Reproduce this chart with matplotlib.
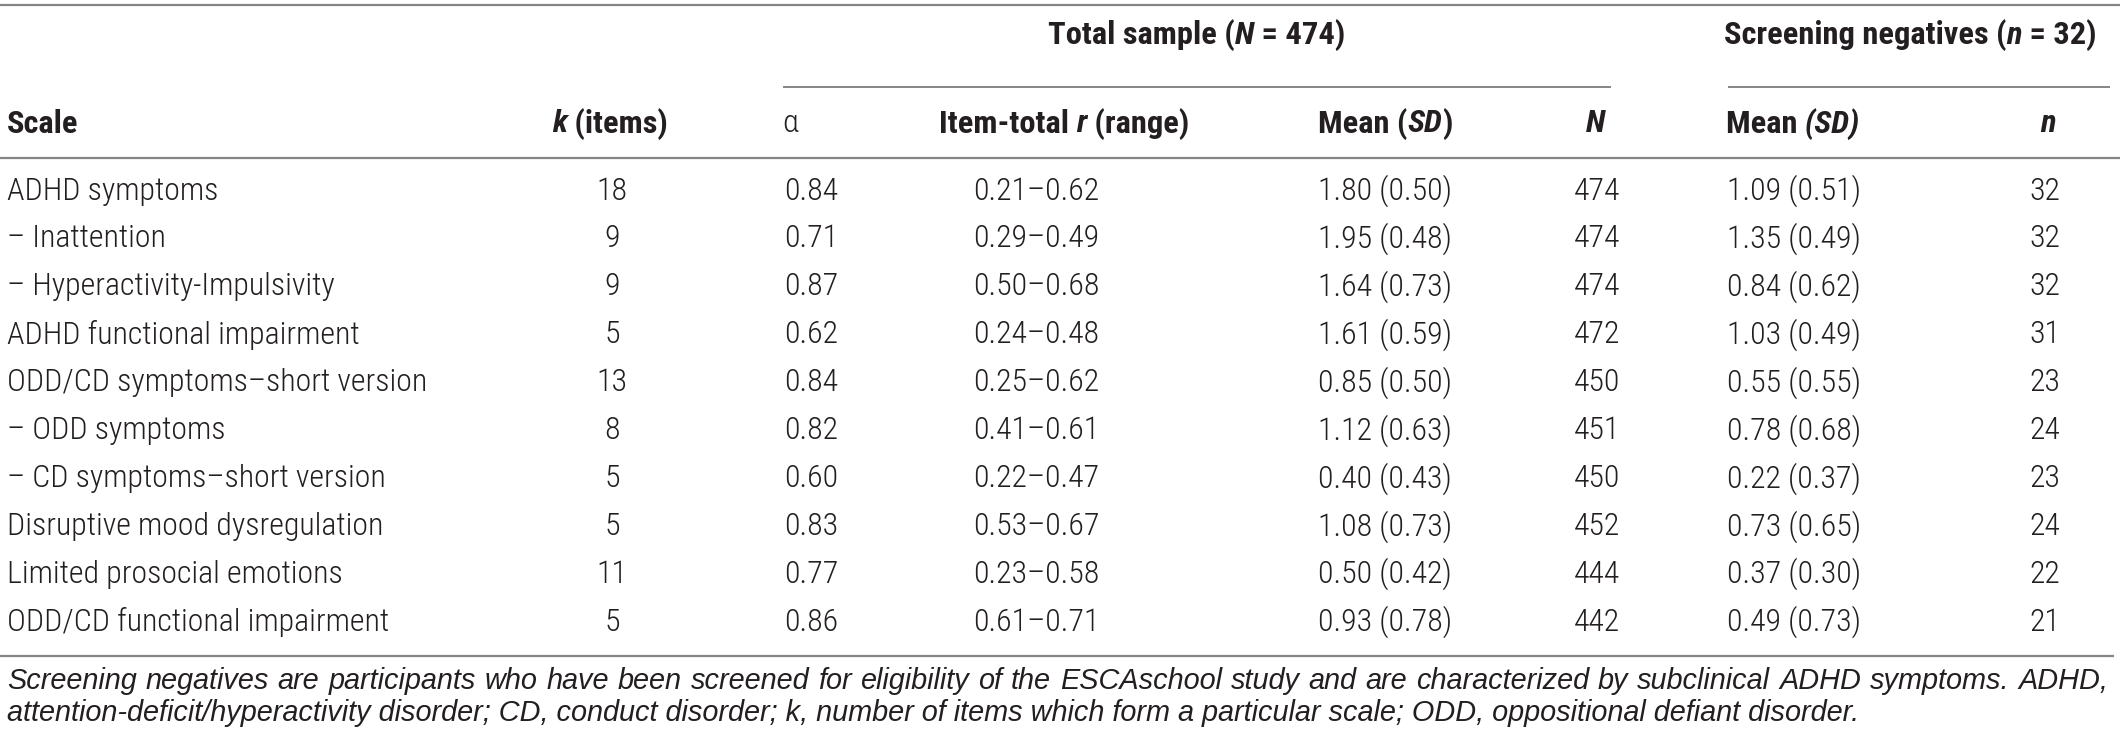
import matplotlib
matplotlib.use("Agg")
import matplotlib.pyplot as plt
from matplotlib import font_manager

# condensed face if there is one, else plain Liberation Sans
have = {f.name for f in font_manager.fontManager.ttflist}
fam = "Liberation Sans"
grow = 1.0
for cand in ["Liberation Sans Narrow", "Roboto Condensed", "Arial Narrow"]:
    if cand in have:
        fam = cand
        grow = 1.134
        break
plt.rcParams['font.family'] = [fam, 'DejaVu Sans']

scales = ["ADHD symptoms", "\u2013 Inattention", "\u2013 Hyperactivity-Impulsivity",
          "ADHD functional impairment", "ODD/CD symptoms\u2013short version",
          "\u2013 ODD symptoms", "\u2013 CD symptoms\u2013short version",
          "Disruptive mood dysregulation", "Limited prosocial emotions",
          "ODD/CD functional impairment"]
k_items = [18, 9, 9, 5, 13, 8, 5, 5, 11, 5]
alpha = ["0.84", "0.71", "0.87", "0.62", "0.84", "0.82", "0.60", "0.83", "0.77", "0.86"]
r_range = ["0.21\u20130.62", "0.29\u20130.49", "0.50\u20130.68", "0.24\u20130.48", "0.25\u20130.62",
           "0.41\u20130.61", "0.22\u20130.47", "0.53\u20130.67", "0.23\u20130.58", "0.61\u20130.71"]
mean_total = ["1.80 (0.50)", "1.95 (0.48)", "1.64 (0.73)", "1.61 (0.59)", "0.85 (0.50)",
              "1.12 (0.63)", "0.40 (0.43)", "1.08 (0.73)", "0.50 (0.42)", "0.93 (0.78)"]
n_total = [474, 474, 474, 472, 450, 451, 450, 452, 444, 442]
mean_neg = ["1.09 (0.51)", "1.35 (0.49)", "0.84 (0.62)", "1.03 (0.49)", "0.55 (0.55)",
            "0.78 (0.68)", "0.22 (0.37)", "0.73 (0.65)", "0.37 (0.30)", "0.49 (0.73)"]
n_neg = [32, 32, 32, 31, 23, 24, 23, 24, 22, 21]

footnote = ["Screening negatives are participants who have been screened for eligibility of the ESCAschool study "
            "and are characterized by subclinical ADHD symptoms. ADHD,",
            "attention-deficit/hyperactivity disorder; CD, conduct disorder; k, number of items which form a "
            "particular scale; ODD, oppositional defiant disorder."]

W, H = 2120, 741
fig = plt.figure(figsize=(W / 100, H / 100), dpi=100)
ax = fig.add_axes([0, 0, 1, 1])
ax.set_xlim(0, W)
ax.set_ylim(H, 0)
ax.axis("off")

txt = "#231f20"
line_c = "#858585"
fs = 20.2 * grow
fs_head = 20.6 * grow
fs_note = 20.8
note_fam = ["Liberation Sans", "DejaVu Sans"]
body_w = "light"

# rules
ax.hlines(5, 0, W, color=line_c, lw=1.6)
ax.hlines(87, 783, 1611, color=line_c, lw=1.4)
ax.hlines(87, 1728, 2110, color=line_c, lw=1.4)
ax.hlines(158, 0, W, color=line_c, lw=1.6)
ax.hlines(656, 0, 2114, color=line_c, lw=1.6)

fig.canvas.draw()
renderer = fig.canvas.get_renderer()


def seg_text(x, y, parts, ha="left", size=fs_head):
    # draw a run of (string, weight, style) pieces next to each other
    items = []
    total = 0
    for s, w, st in parts:
        t = ax.text(0, y, s, fontsize=size, fontweight=w, fontstyle=st, color=txt, va="center", ha="left")
        bb = t.get_window_extent(renderer)
        items.append((t, bb.width))
        total += bb.width
    if ha == "center":
        x0 = x - total / 2
    elif ha == "right":
        x0 = x - total
    else:
        x0 = x
    for t, wdt in items:
        t.set_x(x0)
        x0 += wdt


def justify(x0, x1, y, line, size):
    words = line.split(" ")
    ts = []
    widths = []
    for w in words:
        t = ax.text(0, y, w, fontsize=size, fontstyle="italic", family=note_fam,
                    color=txt, va="center", ha="left")
        ts.append(t)
        widths.append(t.get_window_extent(renderer).width)
    gap = max((x1 - x0 - sum(widths)) / (len(words) - 1), 4)
    x = x0
    for t, wd in zip(ts, widths):
        t.set_x(x)
        x += wd + gap


B, N_, I_ = "bold", "normal", "italic"
# group headers
seg_text(1197, 35, [("Total sample (", B, N_), ("N", B, I_), (" = 474)", B, N_)], ha="center")
seg_text(1724, 35, [("Screening negatives (", B, N_), ("n", B, I_), (" = 32)", B, N_)])

hy = 124
seg_text(7, hy, [("Scale", B, N_)])
seg_text(610, hy, [("k", B, I_), (" (items)", B, N_)], ha="center")
seg_text(790, hy, [("\u03b1", body_w, N_)], ha="center")
seg_text(1064, hy, [("Item-total ", B, N_), ("r", B, I_), (" (range)", B, N_)], ha="center")
seg_text(1385, hy, [("Mean (", B, N_), ("SD", B, I_), (")", B, N_)], ha="center")
seg_text(1595, hy, [("N", B, I_)], ha="center")
seg_text(1726, hy, [("Mean ", B, N_), ("(SD)", B, I_)])
seg_text(2048, hy, [("n", B, I_)], ha="center")

row0, step = 191, 47.9
cell = dict(fontsize=fs, fontweight=body_w, color=txt, va="center")
for i in range(len(scales)):
    y = row0 + i * step
    ax.text(7, y, scales[i], ha="left", **cell)
    ax.text(612, y, str(k_items[i]), ha="center", **cell)
    ax.text(811, y, alpha[i], ha="center", **cell)
    ax.text(1036, y, r_range[i], ha="center", **cell)
    ax.text(1385, y, mean_total[i], ha="center", **cell)
    ax.text(1597, y, str(n_total[i]), ha="center", **cell)
    ax.text(1727, y, mean_neg[i], ha="left", **cell)
    ax.text(2045, y, str(n_neg[i]), ha="center", **cell)

justify(7, 2108, 681, footnote[0], fs_note)
ax.text(7, 713, footnote[1], fontsize=fs_note, fontstyle="italic", family=note_fam,
        color=txt, va="center", ha="left")

fig.savefig("out.png", dpi=100)
